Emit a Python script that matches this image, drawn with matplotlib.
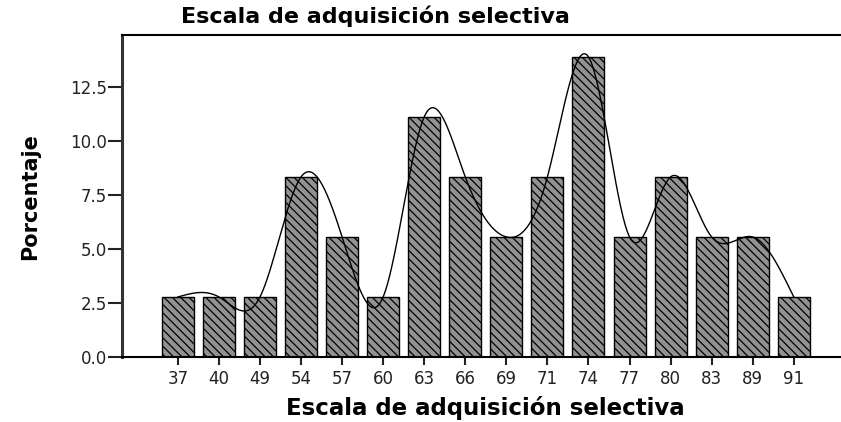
import matplotlib
matplotlib.use("Agg")
import matplotlib.pyplot as plt
import numpy as np

categories = ["37", "40", "49", "54", "57", "60", "63", "66",
              "69", "71", "74", "77", "80", "83", "89", "91"]
counts = [1, 1, 1, 3, 2, 1, 4, 3, 2, 3, 5, 2, 3, 2, 2, 1]
total = 36
percent = [100.0 * c / total for c in counts]

plt.rcParams['hatch.linewidth'] = 0.9
plt.rcParams['hatch.color'] = '#111111'

fig = plt.figure(figsize=(8.41, 4.22), dpi=100)
ax = fig.add_axes([122 / 841, 1 - 357 / 422, 1 - 122 / 841, (357 - 35) / 422])

xpos = np.arange(len(categories))
ax.bar(xpos, percent, width=0.78, color='#929292', edgecolor='black',
       linewidth=1.0, hatch='\\\\\\\\', zorder=2)


# natural cubic spline through bar tops (same smoothing line as the original)
def natural_spline(x, y, xs):
    n = len(x)
    h = np.diff(x)
    A = np.zeros((n, n))
    b = np.zeros(n)
    A[0, 0] = 1
    A[-1, -1] = 1
    for i in range(1, n - 1):
        A[i, i - 1] = h[i - 1]
        A[i, i] = 2 * (h[i - 1] + h[i])
        A[i, i + 1] = h[i]
        b[i] = 3 * ((y[i + 1] - y[i]) / h[i] - (y[i] - y[i - 1]) / h[i - 1])
    c = np.linalg.solve(A, b)
    out = []
    for t in xs:
        i = min(np.searchsorted(x, t, side='right') - 1, n - 2)
        dx = t - x[i]
        bi = (y[i + 1] - y[i]) / h[i] - h[i] * (2 * c[i] + c[i + 1]) / 3
        di = (c[i + 1] - c[i]) / (3 * h[i])
        out.append(y[i] + bi * dx + c[i] * dx ** 2 + di * dx ** 3)
    return np.array(out)


xs = np.linspace(0, len(categories) - 1, 600)
ax.plot(xs, natural_spline(xpos.astype(float), np.array(percent), xs),
        color='black', linewidth=1.0, zorder=3)

ax.set_xlim(-1.36, 16.15)
ax.set_ylim(0, 14.9)
ax.set_xticks(xpos)
ax.set_xticklabels(categories)
ax.set_yticks([0, 2.5, 5, 7.5, 10, 12.5])
ax.set_yticklabels(["0.0", "2.5", "5.0", "7.5", "10.0", "12.5"])
ax.tick_params(axis='both', direction='out', width=1.5,
               colors='#222222', labelsize=12, labelcolor='#222222')
ax.tick_params(axis='y', length=10, pad=1)
ax.tick_params(axis='x', length=6, pad=3)

ax.spines['right'].set_visible(False)
ax.spines['left'].set_linewidth(2.2)
ax.spines['left'].set_color('#333333')
ax.spines['top'].set_linewidth(1.5)
ax.spines['bottom'].set_linewidth(1.5)

fig.text(375 / 841, 1 - 16 / 422, "Escala de adquisición selectiva",
         ha='center', va='center', fontsize=16, fontweight='bold')
fig.text(485 / 841, 1 - 408 / 422, "Escala de adquisición selectiva",
         ha='center', va='center', fontsize=16.5, fontweight='bold')
fig.text(30 / 841, 1 - 197 / 422, "Porcentaje", rotation=90,
         ha='center', va='center', fontsize=15, fontweight='bold',
         family=['DejaVu Sans Condensed', 'DejaVu Sans'])

fig.savefig("out.png", dpi=100)
